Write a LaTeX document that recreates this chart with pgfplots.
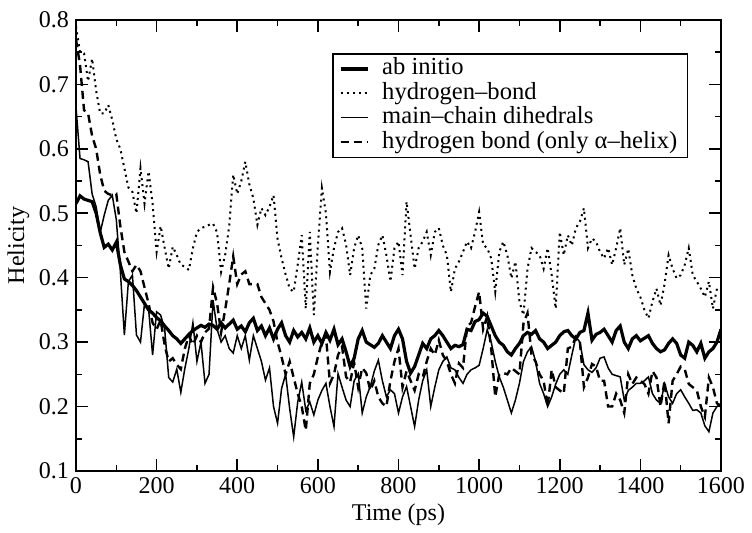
\documentclass[border=0pt]{standalone}
\usepackage{fontspec}
\setmainfont{Liberation Serif}
\usepackage{pgfplots}
\usepackage{pgfplotstable}
\pgfplotsset{compat=1.18}
\pgfplotstableread{
t a h m d
0 0.515 0.79 0.665 0.77
10 0.527 0.75 0.585 0.73
20 0.522 0.748 0.583 0.66
30 0.52 0.705 0.58 0.655
40 0.518 0.74 0.53 0.62
50 0.50 0.69 0.51 0.6
60 0.47 0.655 0.47 0.56
70 0.447 0.655 0.497 0.535
80 0.452 0.668 0.52 0.53
90 0.443 0.645 0.528 0.528
100 0.455 0.615 0.49 0.53
110 0.42 0.6 0.41 0.48
120 0.398 0.57 0.311 0.44
130 0.394 0.54 0.394 0.425
140 0.388 0.533 0.404 0.41
150 0.38 0.5 0.311 0.42
160 0.37 0.57 0.3 0.41
170 0.36 0.515 0.36 0.385
180 0.35 0.565 0.352 0.36
190 0.345 0.515 0.28 0.33
200 0.338 0.44 0.347 0.32
210 0.333 0.48 0.342 0.334
220 0.325 0.446 0.32 0.295
230 0.318 0.414 0.245 0.27
240 0.31 0.448 0.238 0.275
250 0.305 0.435 0.258 0.265
260 0.298 0.42 0.222 0.258
270 0.305 0.417 0.259 0.29
280 0.312 0.412 0.29 0.31
290 0.318 0.446 0.33 0.296
300 0.322 0.471 0.27 0.31
310 0.326 0.477 0.3 0.3
320 0.323 0.479 0.236 0.315
330 0.328 0.482 0.25 0.321
340 0.326 0.484 0.365 0.385
350 0.32 0.47 0.32 0.36
360 0.33 0.409 0.3 0.315
370 0.322 0.435 0.31 0.35
380 0.328 0.48 0.29 0.39
390 0.334 0.56 0.283 0.433
400 0.32 0.53 0.31 0.39
410 0.325 0.55 0.29 0.405
420 0.316 0.58 0.31 0.41
430 0.33 0.545 0.272 0.39
440 0.337 0.523 0.31 0.39
450 0.318 0.482 0.29 0.39
460 0.325 0.508 0.27 0.37
470 0.31 0.497 0.241 0.36
480 0.322 0.51 0.26 0.35
490 0.305 0.528 0.2 0.332
500 0.32 0.46 0.174 0.3
510 0.33 0.43 0.228 0.277
520 0.31 0.405 0.25 0.25
530 0.3 0.383 0.197 0.27
540 0.318 0.378 0.153 0.245
550 0.308 0.42 0.207 0.22
560 0.315 0.466 0.238 0.2
570 0.305 0.352 0.194 0.163
580 0.322 0.471 0.207 0.236
590 0.3 0.342 0.187 0.25
600 0.31 0.45 0.21 0.277
610 0.298 0.539 0.225 0.3
620 0.315 0.5 0.236 0.31
630 0.303 0.409 0.2 0.236
640 0.32 0.446 0.169 0.25
650 0.296 0.471 0.251 0.28
660 0.305 0.477 0.23 0.293
670 0.285 0.451 0.21 0.246
680 0.262 0.404 0.2 0.238
690 0.275 0.446 0.24 0.268
700 0.305 0.466 0.251 0.23
710 0.318 0.446 0.19 0.26
720 0.3 0.352 0.215 0.252
730 0.296 0.404 0.231 0.225
740 0.292 0.414 0.255 0.24
750 0.298 0.451 0.272 0.215
760 0.31 0.466 0.24 0.205
770 0.3 0.435 0.215 0.2
780 0.29 0.394 0.226 0.24
790 0.31 0.446 0.22 0.27
800 0.32 0.456 0.19 0.29
810 0.305 0.404 0.215 0.23
820 0.27 0.518 0.231 0.255
830 0.252 0.466 0.2 0.24
840 0.262 0.414 0.169 0.225
850 0.28 0.446 0.21 0.25
860 0.298 0.456 0.24 0.245
870 0.29 0.471 0.257 0.27
880 0.305 0.435 0.2 0.29
890 0.31 0.471 0.23 0.28
900 0.318 0.477 0.257 0.303
910 0.31 0.45 0.27 0.28
920 0.3 0.435 0.277 0.27
930 0.29 0.378 0.26 0.25
940 0.295 0.414 0.257 0.236
950 0.293 0.425 0.245 0.267
960 0.296 0.44 0.236 0.26
970 0.32 0.456 0.25 0.324
980 0.318 0.446 0.257 0.33
990 0.332 0.471 0.26 0.355
1000 0.335 0.502 0.264 0.378
1010 0.345 0.451 0.29 0.32
1020 0.34 0.446 0.319 0.34
1030 0.325 0.43 0.3 0.29
1040 0.31 0.378 0.27 0.215
1050 0.3 0.44 0.246 0.25
1060 0.295 0.456 0.23 0.252
1070 0.285 0.435 0.21 0.25
1080 0.28 0.399 0.19 0.26
1090 0.29 0.425 0.21 0.255
1100 0.298 0.363 0.236 0.25
1110 0.31 0.342 0.27 0.329
1120 0.315 0.414 0.285 0.345
1130 0.312 0.446 0.293 0.28
1140 0.318 0.44 0.27 0.27
1150 0.305 0.435 0.236 0.25
1160 0.3 0.414 0.22 0.24
1170 0.29 0.446 0.2 0.2
1180 0.295 0.404 0.215 0.257
1190 0.3 0.352 0.235 0.23
1200 0.31 0.471 0.25 0.225
1210 0.316 0.435 0.257 0.22
1220 0.318 0.466 0.25 0.29
1230 0.31 0.45 0.28 0.293
1240 0.305 0.477 0.308 0.308
1250 0.315 0.487 0.3 0.3
1260 0.318 0.508 0.265 0.23
1270 0.345 0.446 0.257 0.245
1280 0.303 0.461 0.253 0.266
1290 0.312 0.456 0.26 0.262
1300 0.315 0.44 0.275 0.24
1310 0.32 0.43 0.277 0.24
1320 0.31 0.446 0.26 0.2
1330 0.3 0.42 0.25 0.2
1340 0.318 0.446 0.248 0.22
1350 0.325 0.477 0.246 0.21
1360 0.3 0.42 0.21 0.19
1370 0.29 0.445 0.225 0.25
1380 0.305 0.404 0.23 0.235
1390 0.31 0.383 0.236 0.245
1400 0.302 0.37 0.236 0.24
1410 0.306 0.35 0.24 0.235
1420 0.31 0.337 0.246 0.22
1430 0.298 0.363 0.22 0.255
1440 0.29 0.383 0.21 0.245
1450 0.285 0.357 0.205 0.2
1460 0.288 0.39 0.235 0.24
1470 0.298 0.435 0.215 0.174
1480 0.305 0.414 0.205 0.24
1490 0.298 0.399 0.22 0.25
1500 0.28 0.404 0.226 0.262
1510 0.275 0.42 0.215 0.258
1520 0.3 0.446 0.205 0.235
1530 0.295 0.404 0.194 0.23
1540 0.285 0.394 0.195 0.225
1550 0.298 0.383 0.19 0.2
1560 0.275 0.37 0.17 0.184
1570 0.285 0.394 0.161 0.245
1580 0.29 0.352 0.19 0.23
1590 0.3 0.383 0.2 0.205
1600 0.32 0.38 0.205 0.2
}\data
\begin{document}
\begin{tikzpicture}
\begin{axis}[
  scale only axis,
  width=322.5pt, height=225.5pt,
  xmin=0, xmax=1600, ymin=0.1, ymax=0.8,
  xtick={0,200,...,1600},
  minor x tick num=1,
  ytick={0.1,0.2,...,0.8},
  minor y tick num=1,
  major tick length=6pt, minor tick length=3pt,
  tick style={line width=0.8pt, black},
  axis line style={line width=0.8pt},
  tick align=inside,
  /pgf/number format/assume math mode=true,
  /pgf/number format/1000 sep={},
  yticklabel style={/pgf/number format/.cd, fixed, fixed zerofill, precision=1},
  tick label style={font=\fontsize{12}{14}\selectfont},
  label style={font=\fontsize{12}{14}\selectfont},
  xlabel={Time (ps)},
  ylabel={Helicity},
  xlabel style={yshift=2pt},
  ylabel style={yshift=-2pt},
  legend style={at={(0.949,0.927)}, anchor=north east, draw=black, line width=0.8pt,
     font=\fontsize{12.3}{13}\selectfont, legend cell align=left, inner xsep=3pt, inner ysep=1.5pt, row sep=0pt,
     nodes={text height=8.6pt, text depth=2.6pt, inner ysep=0.5pt}},
  legend image code/.code={\draw[#1] (0pt,0pt) -- (13.5pt,0pt);},
]
\addplot[black, line width=1.6pt] table[x=t, y=a] {\data};
\addlegendentry{\hspace{4.5pt}ab initio}
\addplot[black, line width=1pt, dash pattern=on 1pt off 2pt] table[x=t, y=h] {\data};
\addlegendentry{\hspace{4.5pt}hydrogen–bond}
\addplot[black, line width=0.75pt] table[x=t, y=m] {\data};
\addlegendentry{\hspace{4.5pt}main–chain dihedrals}
\addplot[black, line width=1.2pt, dash pattern=on 4pt off 2.5pt] table[x=t, y=d] {\data};
\addlegendentry{\hspace{4.5pt}hydrogen bond (only α–helix)}
\end{axis}
\path (current axis.south west) ++(-38pt,-31pt) coordinate (bbA);
\path (current axis.north east) ++(15.5pt,10pt) coordinate (bbB);
\path (bbA) rectangle (bbB);
\end{tikzpicture}
\end{document}
